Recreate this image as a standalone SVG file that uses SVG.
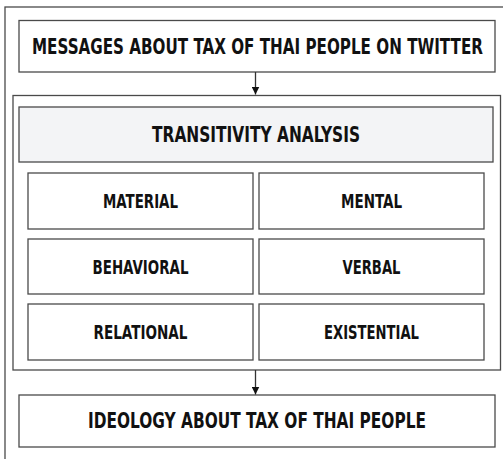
<svg xmlns="http://www.w3.org/2000/svg" width="503" height="459" viewBox="0 0 503 459">
<defs>
<style>
.box{fill:#fff;stroke:#4a4a4a;stroke-width:1.3}
.head{fill:#f3f4f6;stroke:#4a4a4a;stroke-width:1.3}
.frame{fill:none;stroke:#4a4a4a;stroke-width:1.3}
.t{font-family:"Liberation Sans Narrow","DejaVu Sans Condensed","Liberation Sans",sans-serif;font-weight:bold;fill:#111;text-anchor:middle}
.big{font-size:21px}
.sm{font-size:20px}
.conn{stroke:#333;stroke-width:1.3;fill:none}
</style>
<marker id="ah" viewBox="0 0 8 8" refX="8" refY="4" markerWidth="8" markerHeight="8" markerUnits="userSpaceOnUse" orient="auto">
<path d="M0,0 L8,4 L0,8 Z" fill="#111"/>
</marker>
</defs>
<rect x="0" y="0" width="503" height="459" fill="#fff"/>
<rect class="frame" x="5" y="7" width="520" height="480"/>
<g id="container"><rect class="box" x="13" y="95.5" width="487.5" height="274.5"/></g>
<g id="messages">
<rect class="box" x="19" y="20.5" width="476" height="51.5"/>
<text class="t big" x="257.5" y="54" textLength="451" lengthAdjust="spacingAndGlyphs">MESSAGES ABOUT TAX OF THAI PEOPLE ON TWITTER</text>
</g>
<g id="transitivity">
<rect class="head" x="19" y="107" width="474" height="55"/>
<text class="t big" x="256" y="142" textLength="208" lengthAdjust="spacingAndGlyphs">TRANSITIVITY ANALYSIS</text>
</g>
<g id="material">
<rect class="box" x="28" y="173" width="225" height="56"/>
<text class="t sm" x="140.5" y="208" textLength="75" lengthAdjust="spacingAndGlyphs">MATERIAL</text>
</g>
<g id="mental">
<rect class="box" x="259" y="173" width="225" height="56"/>
<text class="t sm" x="371.5" y="208" textLength="61" lengthAdjust="spacingAndGlyphs">MENTAL</text>
</g>
<g id="behavioral">
<rect class="box" x="28" y="239" width="225" height="55"/>
<text class="t sm" x="140.5" y="274" textLength="96" lengthAdjust="spacingAndGlyphs">BEHAVIORAL</text>
</g>
<g id="verbal">
<rect class="box" x="259" y="239" width="225" height="55"/>
<text class="t sm" x="371.5" y="274" textLength="58" lengthAdjust="spacingAndGlyphs">VERBAL</text>
</g>
<g id="relational">
<rect class="box" x="28" y="304" width="225" height="56"/>
<text class="t sm" x="140.5" y="339" textLength="94" lengthAdjust="spacingAndGlyphs">RELATIONAL</text>
</g>
<g id="existential">
<rect class="box" x="259" y="304" width="225" height="56"/>
<text class="t sm" x="371.5" y="339" textLength="95" lengthAdjust="spacingAndGlyphs">EXISTENTIAL</text>
</g>
<g id="ideology">
<rect class="box" x="19" y="395" width="476" height="52"/>
<text class="t big" x="257" y="428" textLength="338" lengthAdjust="spacingAndGlyphs">IDEOLOGY ABOUT TAX OF THAI PEOPLE</text>
</g>
<g id="connectors">
<line class="conn" x1="255.5" y1="72" x2="255.5" y2="94.5" marker-end="url(#ah)"/>
<line class="conn" x1="255.5" y1="370" x2="255.5" y2="394.5" marker-end="url(#ah)"/>
</g>
</svg>
